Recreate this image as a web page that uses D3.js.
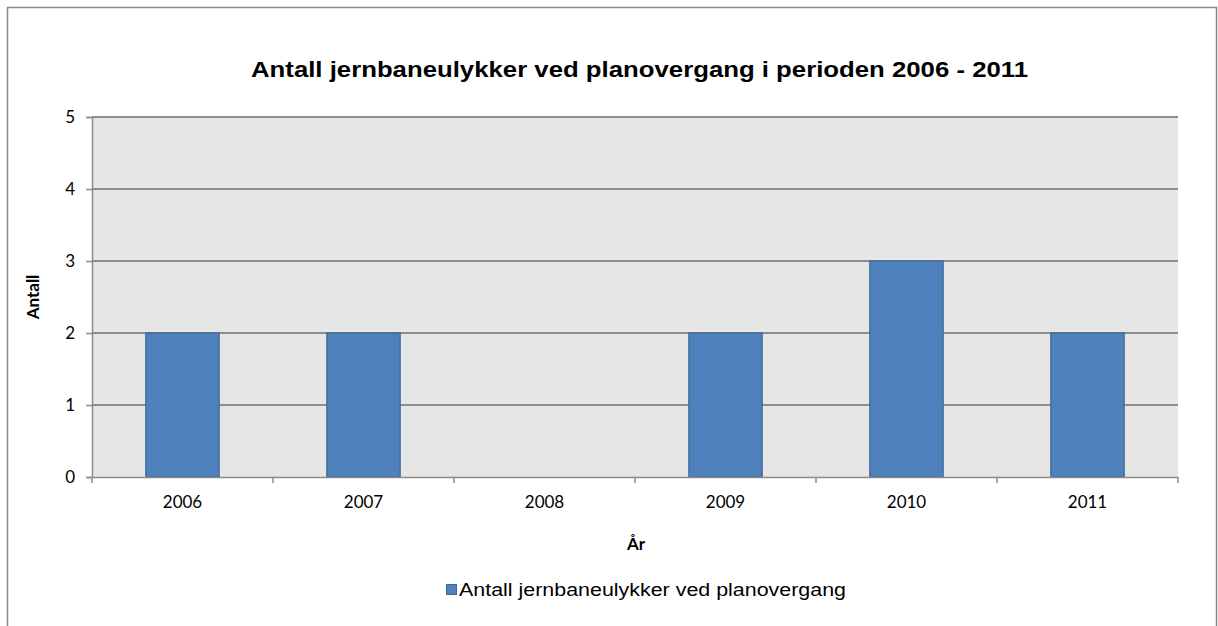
<!DOCTYPE html>
<html>
<head>
<meta charset="utf-8">
<script src="https://cdn.jsdelivr.net/npm/d3@7"></script>
<style>
  body { margin: 0; background: #fff; }
  svg { display: block; }
</style>
</head>
<body>
<svg id="canvas" width="1218" height="626"></svg>
<script>
var years = ["2006", "2007", "2008", "2009", "2010", "2011"];
var accidents = [2, 2, 0, 2, 3, 2];
var yTicks = [0, 1, 2, 3, 4, 5];
var title = "Antall jernbaneulykker ved planovergang i perioden 2006 - 2011";
var seriesName = "Antall jernbaneulykker ved planovergang";

var svg = d3.select("#canvas");
var plotL = 92, plotR = 1178, plotT = 117, plotB = 477;
var tickFont = "Lato, 'Liberation Sans', sans-serif";

// outer chart frame
svg.append("rect")
	.attr("x", 7.5).attr("y", 7.5)
	.attr("width", 1209).attr("height", 625)
	.attr("fill", "#fff")
	.attr("stroke", "#888").attr("stroke-width", 1.5);

var x = d3.scaleBand().domain(years).range([plotL, plotR]).padding(0);
var y = d3.scaleLinear().domain([0, 5]).range([plotB, plotT]);

svg.append("rect")
	.attr("x", plotL).attr("y", plotT)
	.attr("width", plotR - plotL).attr("height", plotB - plotT)
	.attr("fill", "#e6e6e6");

// gridlines
svg.append("g")
	.selectAll("line")
	.data(yTicks.filter(function(d) { return d > 0; }))
	.enter().append("line")
	.attr("x1", plotL).attr("x2", plotR)
	.attr("y1", function(d) { return y(d); })
	.attr("y2", function(d) { return y(d); })
	.attr("stroke", "#8c8c8c").attr("stroke-width", 2);

// bars
var bw = x.bandwidth() * 0.405;
svg.append("g")
	.selectAll("rect")
	.data(years)
	.enter().append("rect")
	.attr("x", function(d) { return x(d) + (x.bandwidth() - bw) / 2; })
	.attr("y", function(d, i) { return y(accidents[i]); })
	.attr("width", bw)
	.attr("height", function(d, i) { return y(0) - y(accidents[i]); })
	.attr("fill", "#4f81bd")
	.attr("stroke", "#3c6595").attr("stroke-width", 1.2);

// y axis
var yAxis = svg.append("g")
	.attr("transform", "translate(" + plotL + ",0)")
	.call(d3.axisLeft(y).tickValues(yTicks).tickSize(6).tickPadding(11).tickFormat(d3.format("d")));
yAxis.select(".domain").attr("stroke", "#8c8c8c").attr("stroke-width", 1.5);
yAxis.selectAll(".tick line").attr("stroke", "#8c8c8c").attr("stroke-width", 1.5);
yAxis.selectAll("text").attr("font-family", tickFont).attr("font-size", 17).attr("fill", "#000");

// x axis
var xAxis = svg.append("g")
	.attr("transform", "translate(0," + plotB + ")")
	.call(d3.axisBottom(x).tickSize(0).tickPadding(19));
xAxis.select(".domain").attr("stroke", "#8c8c8c").attr("stroke-width", 1.5);
xAxis.selectAll("text").attr("font-family", tickFont).attr("font-size", 17).attr("fill", "#000");

// category separators
svg.append("g")
	.selectAll("line")
	.data(years.concat(["end"]))
	.enter().append("line")
	.attr("x1", function(d) { return d == "end" ? plotR : x(d); })
	.attr("x2", function(d) { return d == "end" ? plotR : x(d); })
	.attr("y1", plotB).attr("y2", plotB + 6)
	.attr("stroke", "#8c8c8c").attr("stroke-width", 1.5);

// titles
svg.append("text")
	.attr("x", 639.5).attr("y", 77)
	.attr("text-anchor", "middle")
	.attr("font-family", "'Liberation Sans', Arial, sans-serif")
	.attr("font-weight", "bold").attr("font-size", 22)
	.attr("textLength", 777).attr("lengthAdjust", "spacingAndGlyphs")
	.text(title);

svg.append("text")
	.attr("transform", "translate(39,297) rotate(-90)")
	.attr("text-anchor", "middle")
	.attr("font-family", tickFont)
	.attr("font-weight", "bold").attr("font-size", 17)
	.text("Antall");

svg.append("text")
	.attr("x", 636).attr("y", 550)
	.attr("text-anchor", "middle")
	.attr("font-family", tickFont)
	.attr("font-weight", "bold").attr("font-size", 17)
	.text("År");

// legend
var legend = svg.append("g").attr("transform", "translate(446.5,584.5)");
legend.append("rect")
	.attr("width", 10).attr("height", 10)
	.attr("fill", "#4f81bd").attr("stroke", "#3c6595");
legend.append("text")
	.attr("x", 12.5).attr("y", 11)
	.attr("font-family", "'Liberation Sans', Arial, sans-serif")
	.attr("font-size", 17.5)
	.attr("textLength", 387).attr("lengthAdjust", "spacingAndGlyphs")
	.text(seriesName);
</script>
</body>
</html>
